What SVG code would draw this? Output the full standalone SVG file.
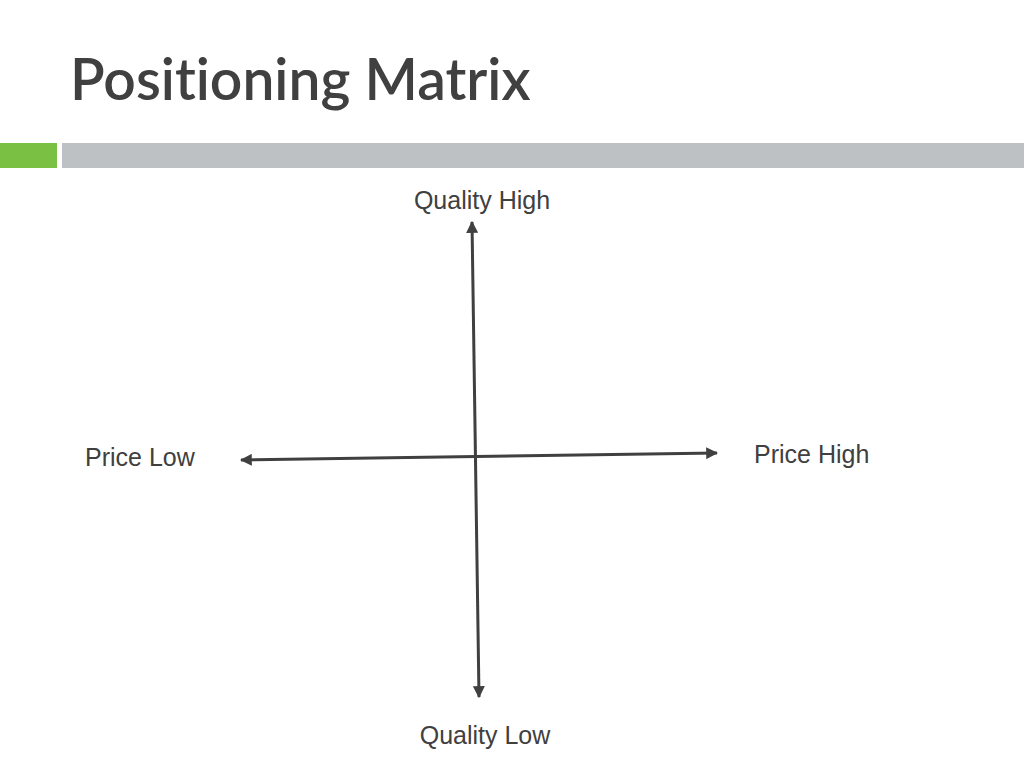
<svg xmlns="http://www.w3.org/2000/svg" width="1024" height="768" viewBox="0 0 1024 768">
<style>
.lbl{font-family:"Liberation Sans",Arial,sans-serif;font-size:25px;fill:#404040}
.title{font-family:Lato,"Open Sans",sans-serif;font-size:57px;font-weight:600;fill:#404040;font-variant-ligatures:none}
.ax{stroke:#404040;stroke-width:3;fill:none}
</style>
<defs>
<marker id="ah" viewBox="0 0 10 10" refX="9" refY="5" markerWidth="4" markerHeight="4" orient="auto-start-reverse" markerUnits="strokeWidth">
<path d="M0,0 L10,5 L0,10 z" fill="#404040"/>
</marker>
</defs>
<rect width="1024" height="768" fill="#ffffff"/>
<g id="header">
<text class="title" x="70" y="100">Positioning Matrix</text>
<rect x="0" y="143" width="57" height="25" fill="#7ac143"/>
<rect x="62" y="143" width="962" height="25" fill="#bdc1c4"/>
</g>
<g id="connectors">
<line class="ax" x1="472" y1="222" x2="479" y2="697" marker-start="url(#ah)" marker-end="url(#ah)"/>
<line class="ax" x1="241" y1="460" x2="717" y2="453" marker-start="url(#ah)" marker-end="url(#ah)"/>
</g>
<g id="quality-high"><text class="lbl" x="482" y="209" text-anchor="middle">Quality High</text></g>
<g id="quality-low"><text class="lbl" x="485" y="744" text-anchor="middle">Quality Low</text></g>
<g id="price-low"><text class="lbl" x="85" y="466">Price Low</text></g>
<g id="price-high"><text class="lbl" x="754" y="463">Price High</text></g>
</svg>
